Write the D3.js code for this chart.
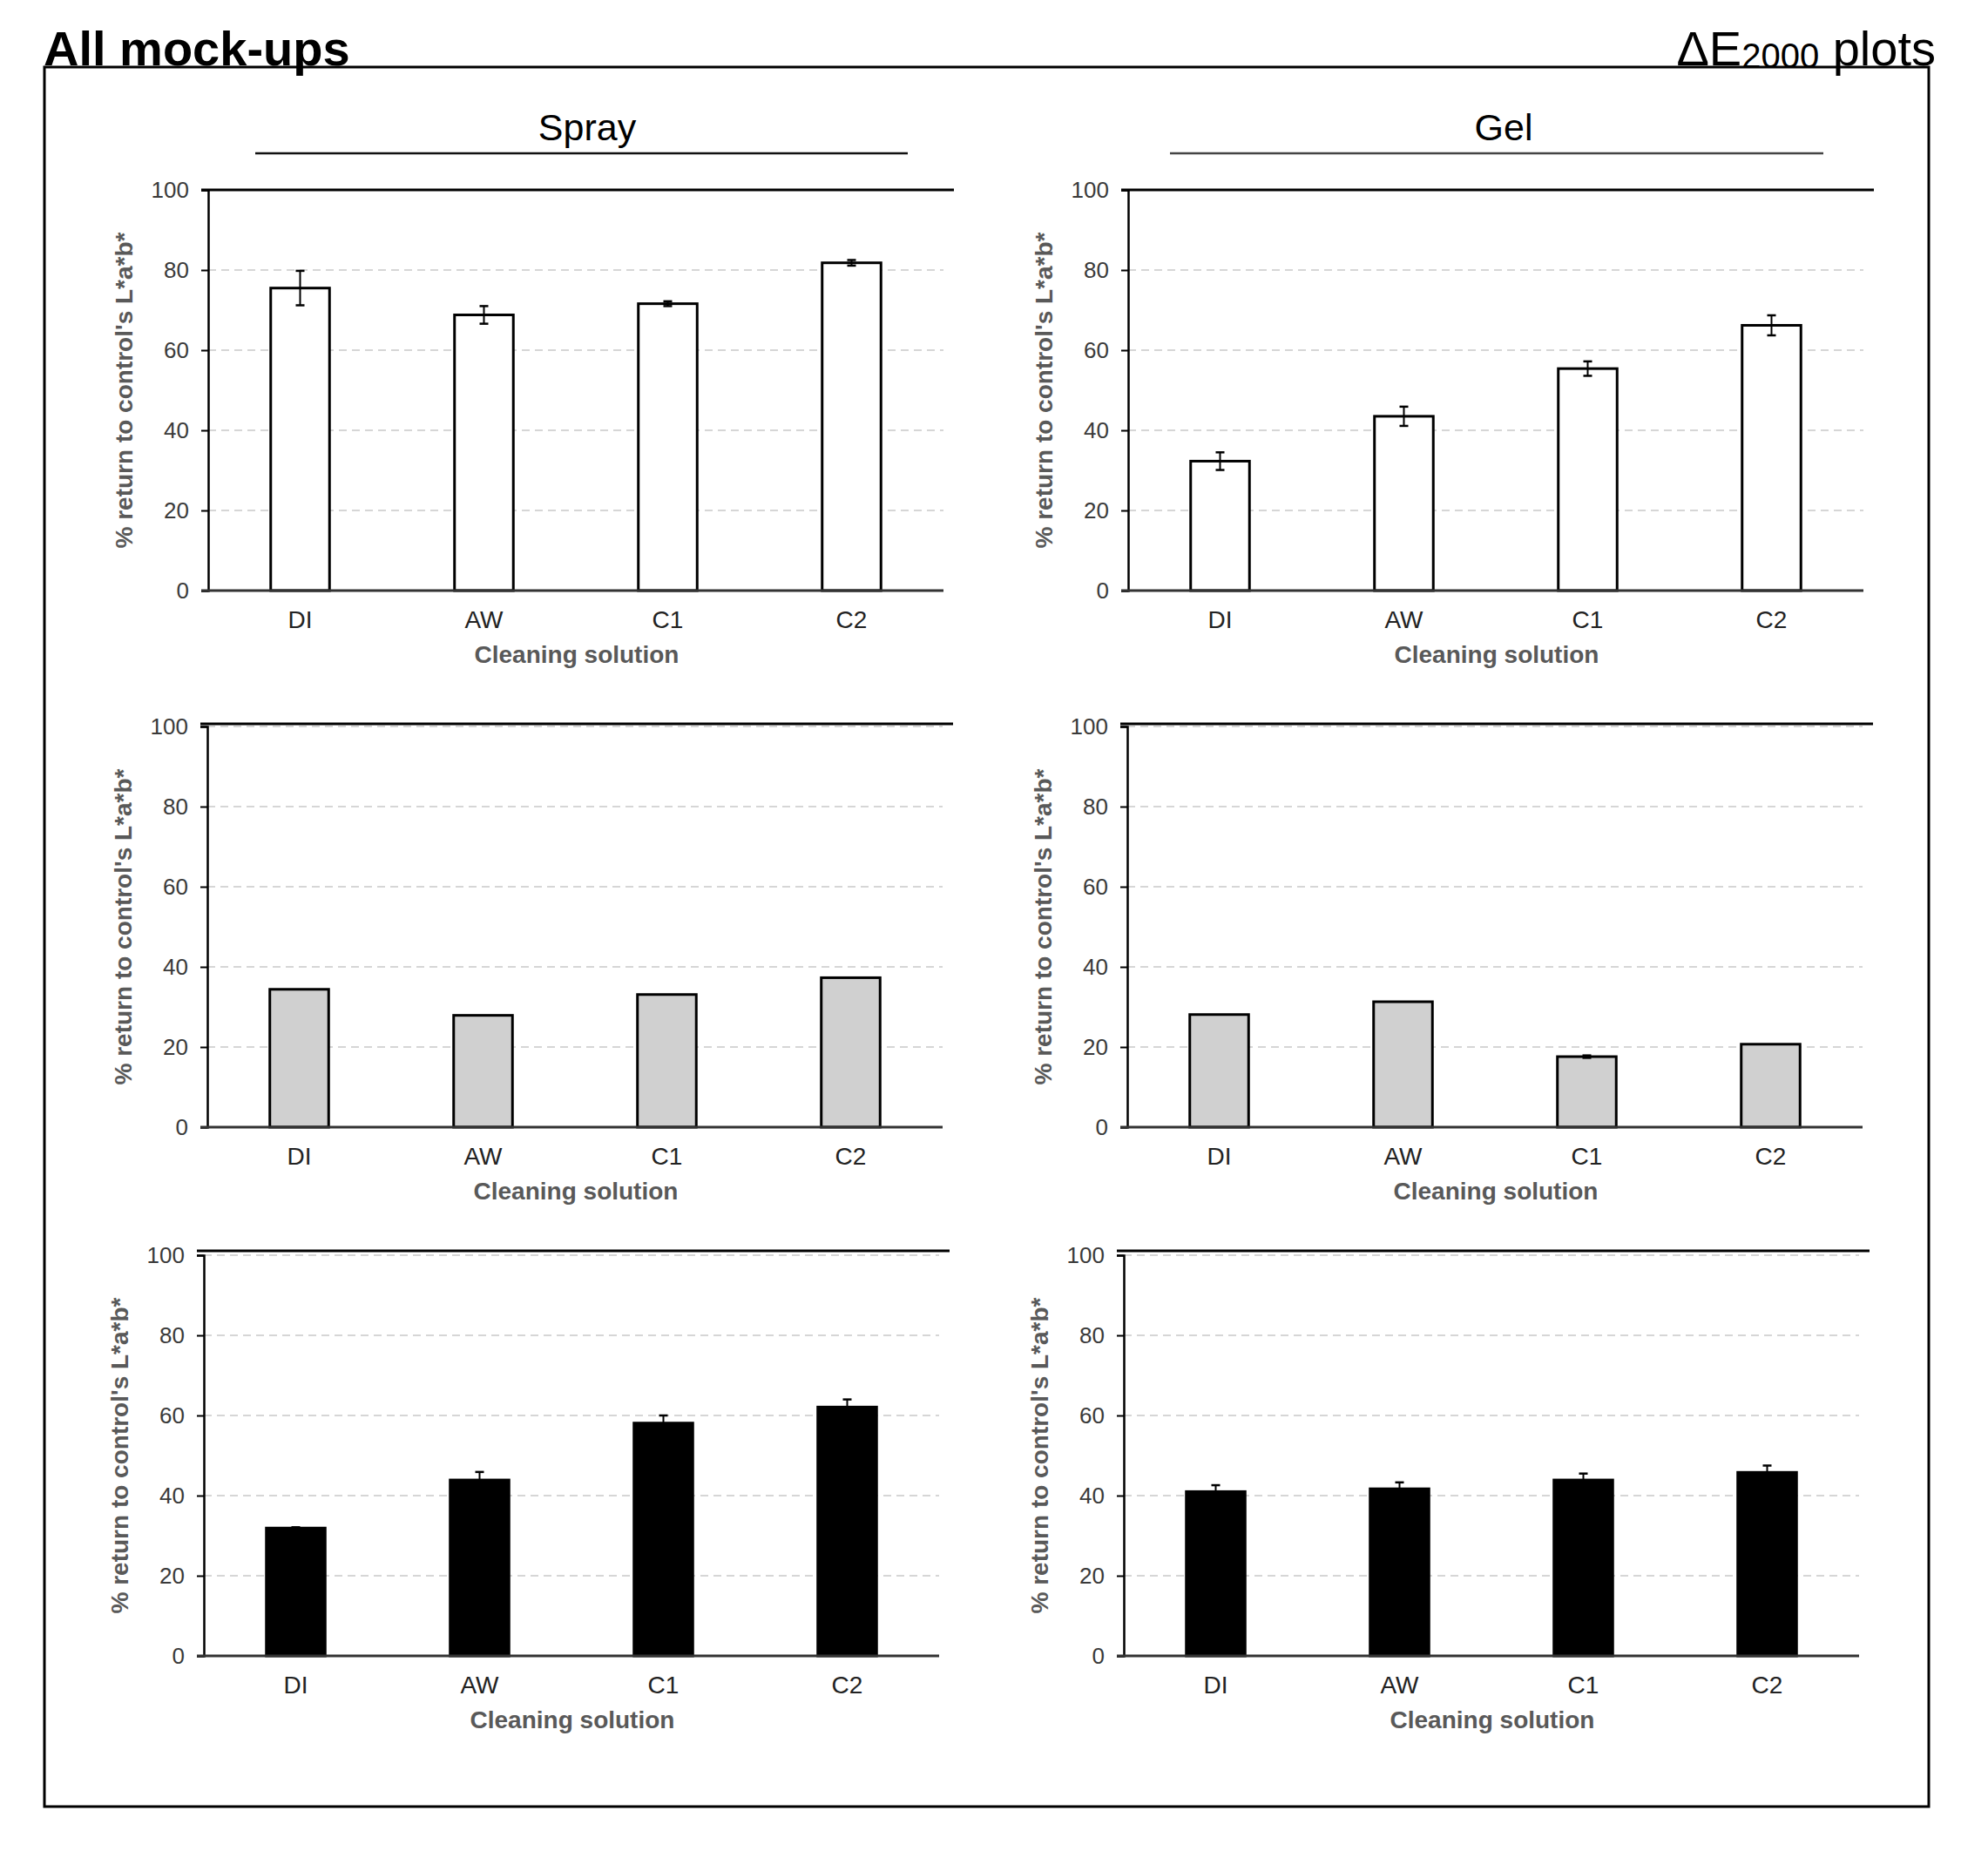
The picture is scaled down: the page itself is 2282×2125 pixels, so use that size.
<!DOCTYPE html>
<html><head><meta charset="utf-8">
<script src="https://cdn.jsdelivr.net/npm/d3@7"></script>
<style>body{margin:0;background:#fff}</style>
</head><body>
<svg id="chart" width="2282" height="2125"></svg>
<script>
const categories = ["DI", "AW", "C1", "C2"];
const yTicks = [0, 20, 40, 60, 80, 100];
const columnTitles = ["Spray", "Gel"];
const sprayRow1 = [75.5, 68.8, 71.6, 81.8];
const sprayRow1Err = [4.3, 2.2, 0.6, 0.7];
const gelRow1 = [32.3, 43.5, 55.4, 66.2];
const gelRow1Err = [2.2, 2.4, 1.8, 2.5];
const sprayRow2 = [34.4, 27.9, 33.1, 37.3];
const sprayRow2Err = [0, 0, 0, 0];
const gelRow2 = [28.1, 31.3, 17.6, 20.7];
const gelRow2Err = [0, 0, 0.3, 0];
const sprayRow3 = [31.9, 43.9, 58.1, 62.1];
const sprayRow3Err = [0.2, 2.0, 1.9, 1.9];
const gelRow3 = [41.0, 41.7, 43.9, 45.8];
const gelRow3Err = [1.6, 1.6, 1.6, 1.7];

const panels = [
  {row:0,col:0,vals:sprayRow1,err:sprayRow1Err},
  {row:0,col:1,vals:gelRow1,err:gelRow1Err},
  {row:1,col:0,vals:sprayRow2,err:sprayRow2Err},
  {row:1,col:1,vals:gelRow2,err:gelRow2Err},
  {row:2,col:0,vals:sprayRow3,err:sprayRow3Err},
  {row:2,col:1,vals:gelRow3,err:gelRow3Err}
];
const rowFill = ["#ffffff", "#d0d0d0", "#000000"];
const rowTop = [218, 834, 1441];
const rowTopLineShift = [0, -3, -5];
const rowXShift = [0, -1, -5];
const colX = [239, 1295];
const plotW = 844, plotH = 460;
const FONT = "'Liberation Sans', Arial, sans-serif";

const svg = d3.select("#chart");

// outer frame
svg.append("rect").attr("x", 51).attr("y", 77).attr("width", 2163).attr("height", 1997)
  .attr("fill", "none").attr("stroke", "#000").attr("stroke-width", 3);

svg.append("text").attr("x", 50).attr("y", 75).attr("font-family", FONT)
  .attr("font-size", 56).attr("font-weight", "bold").attr("fill", "#000").text("All mock-ups");
const t2 = svg.append("text").attr("x", 2222).attr("y", 75).attr("text-anchor", "end")
  .attr("font-family", FONT).attr("font-size", 56).attr("fill", "#000");
t2.append("tspan").text("ΔE");
t2.append("tspan").attr("font-size", 40).attr("dy", 3).text("2000");
t2.append("tspan").attr("dy", -3).text(" plots");

// column titles
const titleX = [674, 1726];
const underline = [[293, 1042], [1343, 2093]];
columnTitles.forEach((t, i) => {
  svg.append("text").attr("x", titleX[i]).attr("y", 161).attr("text-anchor", "middle")
    .attr("font-family", FONT).attr("font-size", 43).attr("fill", "#000").text(t);
  svg.append("line").attr("x1", underline[i][0]).attr("x2", underline[i][1])
    .attr("y1", 176).attr("y2", 176).attr("stroke", i === 0 ? "#111" : "#444").attr("stroke-width", 2.5);
});

panels.forEach(p => {
  const x0 = colX[p.col] + rowXShift[p.row];
  const y0 = rowTop[p.row];
  const g = svg.append("g").attr("transform", `translate(${x0},${y0})`);
  const x = d3.scaleBand().domain(categories).range([0, plotW]).paddingInner(0.68).paddingOuter(0.34);
  const y = d3.scaleLinear().domain([0, 100]).range([plotH, 0]);

  // gridlines
  g.selectAll(".grid").data(yTicks.filter(d => d > 0)).join("line")
    .attr("x1", 0).attr("x2", plotW).attr("y1", d => y(d)).attr("y2", d => y(d))
    .attr("stroke", "#d6d6d6").attr("stroke-width", 2).attr("stroke-dasharray", "9,6");

  // top frame line
  g.append("line").attr("x1", -8).attr("x2", plotW + 12)
    .attr("y1", y(100) + rowTopLineShift[p.row]).attr("y2", y(100) + rowTopLineShift[p.row])
    .attr("stroke", "#000").attr("stroke-width", 3);

  // bars
  g.selectAll(".bar").data(p.vals).join("rect")
    .attr("x", (d, i) => x(categories[i])).attr("width", x.bandwidth())
    .attr("y", d => y(d)).attr("height", d => y(0) - y(d))
    .attr("fill", rowFill[p.row]).attr("stroke", "#000").attr("stroke-width", 3);

  // error bars
  const ebData = p.vals.map((v, i) => ({v, e: p.err[i], c: categories[i]})).filter(d => d.e > 0);
  const eb = g.selectAll(".eb").data(ebData).join("g");
  const cx = d => x(d.c) + x.bandwidth() / 2;
  eb.append("line").attr("x1", cx).attr("x2", cx).attr("y1", d => y(d.v + d.e)).attr("y2", d => y(d.v - d.e))
    .attr("stroke", "#000").attr("stroke-width", 2);
  eb.append("line").attr("x1", d => cx(d) - 5).attr("x2", d => cx(d) + 5).attr("y1", d => y(d.v + d.e)).attr("y2", d => y(d.v + d.e))
    .attr("stroke", "#000").attr("stroke-width", 2.5);
  eb.append("line").attr("x1", d => cx(d) - 5).attr("x2", d => cx(d) + 5).attr("y1", d => y(d.v - d.e)).attr("y2", d => y(d.v - d.e))
    .attr("stroke", "#000").attr("stroke-width", 2.5);

  // y axis
  const ya = g.append("g").call(d3.axisLeft(y).tickValues(yTicks).tickSizeOuter(0).tickSize(8).tickPadding(14));
  ya.select(".domain").attr("stroke", "#000").attr("stroke-width", 2.5);
  ya.selectAll(".tick line").attr("stroke", "#000").attr("stroke-width", 2);
  ya.selectAll(".tick text").attr("font-family", FONT).attr("font-size", 26).attr("fill", "#3a3a3a");

  // x axis
  const xa = g.append("g").attr("transform", `translate(0,${plotH})`)
    .call(d3.axisBottom(x).tickSize(0).tickPadding(23));
  xa.select(".domain").attr("d", `M-8,0H${plotW}`).attr("stroke", "#333").attr("stroke-width", 3);
  xa.selectAll(".tick text").attr("font-family", FONT).attr("font-size", 28).attr("fill", "#222");

  g.append("text").attr("x", plotW * 0.5 + 1).attr("y", plotH + 83).attr("text-anchor", "middle")
    .attr("font-family", FONT).attr("font-size", 28).attr("font-weight", "bold").attr("fill", "#595959")
    .text("Cleaning solution");
  g.append("text").attr("transform", `translate(-87,${plotH / 2}) rotate(-90)`).attr("text-anchor", "middle")
    .attr("font-family", FONT).attr("font-size", 28).attr("font-weight", "bold").attr("fill", "#595959")
    .text("% return to control's L*a*b*");
});
</script>
</body></html>
